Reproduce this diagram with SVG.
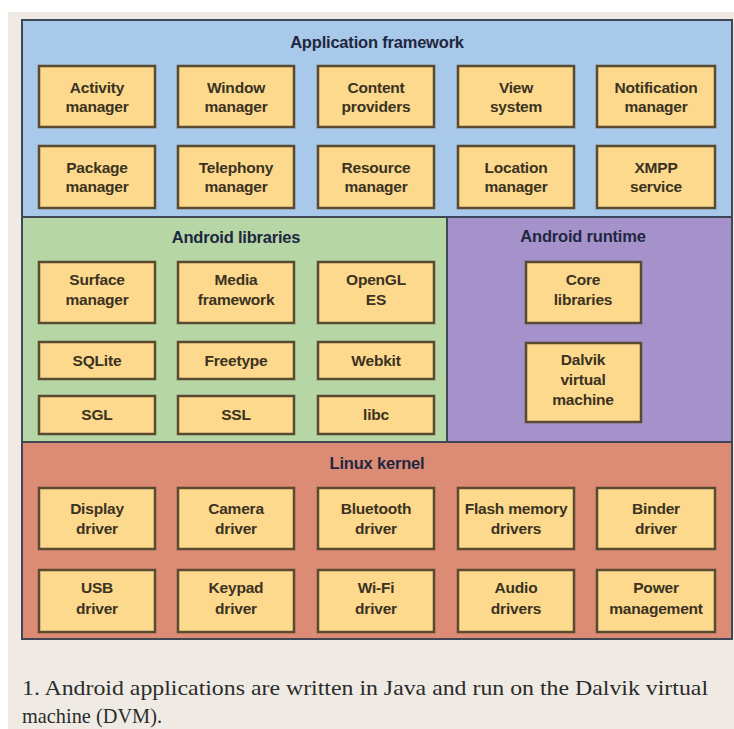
<svg xmlns="http://www.w3.org/2000/svg" width="734" height="729" viewBox="0 0 734 729">
<style>
.layer{stroke:#3f4656;stroke-width:2}
.box rect{fill:#fcd98c;stroke:#5a4a30;stroke-width:2.5}
.box text{font-family:"Liberation Sans",Arial,sans-serif;font-size:15.5px;font-weight:bold;fill:#3b3222;text-anchor:middle;letter-spacing:-0.2px}
.title{font-family:"Liberation Sans",Arial,sans-serif;font-size:16.5px;font-weight:bold;fill:#1f2740;text-anchor:middle;letter-spacing:-0.2px}
.cap{font-family:"Liberation Serif","Times New Roman",serif;font-size:21px;fill:#2b2b2b}
</style>
<rect x="0" y="0" width="734" height="729" fill="#ffffff"/>
<rect x="8" y="12" width="726" height="717" fill="#efebe4"/>
<g id="layer-app">
<rect class="layer" x="22" y="20" width="710" height="197" fill="#a8c9e9"/>
<text class="title" x="377" y="48">Application framework</text>
</g>
<g id="layer-lib">
<rect class="layer" x="22" y="217" width="425" height="225" fill="#b6d6a6"/>
<text class="title" x="236" y="243">Android libraries</text>
</g>
<g id="layer-runtime">
<rect class="layer" x="447" y="217" width="285" height="225" fill="#a592cb"/>
<text class="title" x="583" y="242">Android runtime</text>
</g>
<g id="layer-kernel">
<rect class="layer" x="22" y="442" width="710" height="197" fill="#dc8b74"/>
<text class="title" x="377" y="469">Linux kernel</text>
</g>
<g id="connectors"></g>
<g id="activity" class="box"><rect x="39" y="66" width="116" height="61"/><text x="97" y="93">Activity</text><text x="97" y="112">manager</text></g>
<g id="window" class="box"><rect x="178" y="66" width="116" height="61"/><text x="236" y="93">Window</text><text x="236" y="112">manager</text></g>
<g id="content" class="box"><rect x="318" y="66" width="116" height="61"/><text x="376" y="93">Content</text><text x="376" y="112">providers</text></g>
<g id="view" class="box"><rect x="458" y="66" width="116" height="61"/><text x="516" y="93">View</text><text x="516" y="112">system</text></g>
<g id="notification" class="box"><rect x="597" y="66" width="118" height="61"/><text x="656" y="93">Notification</text><text x="656" y="112">manager</text></g>
<g id="package" class="box"><rect x="39" y="146" width="116" height="62"/><text x="97" y="173">Package</text><text x="97" y="192">manager</text></g>
<g id="telephony" class="box"><rect x="178" y="146" width="116" height="62"/><text x="236" y="173">Telephony</text><text x="236" y="192">manager</text></g>
<g id="resource" class="box"><rect x="318" y="146" width="116" height="62"/><text x="376" y="173">Resource</text><text x="376" y="192">manager</text></g>
<g id="location" class="box"><rect x="458" y="146" width="116" height="62"/><text x="516" y="173">Location</text><text x="516" y="192">manager</text></g>
<g id="xmpp" class="box"><rect x="597" y="146" width="118" height="62"/><text x="656" y="173">XMPP</text><text x="656" y="192">service</text></g>
<g id="surface" class="box"><rect x="39" y="262" width="116" height="61"/><text x="97" y="285">Surface</text><text x="97" y="305">manager</text></g>
<g id="media" class="box"><rect x="178" y="262" width="116" height="61"/><text x="236" y="285">Media</text><text x="236" y="305">framework</text></g>
<g id="opengl" class="box"><rect x="318" y="262" width="116" height="61"/><text x="376" y="285">OpenGL</text><text x="376" y="305">ES</text></g>
<g id="sqlite" class="box"><rect x="39" y="342" width="116" height="37"/><text x="97" y="366">SQLite</text></g>
<g id="freetype" class="box"><rect x="178" y="342" width="116" height="37"/><text x="236" y="366">Freetype</text></g>
<g id="webkit" class="box"><rect x="318" y="342" width="116" height="37"/><text x="376" y="366">Webkit</text></g>
<g id="sgl" class="box"><rect x="39" y="396" width="116" height="38"/><text x="97" y="420">SGL</text></g>
<g id="ssl" class="box"><rect x="178" y="396" width="116" height="38"/><text x="236" y="420">SSL</text></g>
<g id="libc" class="box"><rect x="318" y="396" width="116" height="38"/><text x="376" y="420">libc</text></g>
<g id="core" class="box"><rect x="526" y="262" width="115" height="61"/><text x="583" y="285">Core</text><text x="583" y="305">libraries</text></g>
<g id="dalvik" class="box"><rect x="526" y="343" width="115" height="79"/><text x="583" y="365">Dalvik</text><text x="583" y="385">virtual</text><text x="583" y="405">machine</text></g>
<g id="display" class="box"><rect x="39" y="488" width="116" height="61"/><text x="97" y="514">Display</text><text x="97" y="534">driver</text></g>
<g id="camera" class="box"><rect x="178" y="488" width="116" height="61"/><text x="236" y="514">Camera</text><text x="236" y="534">driver</text></g>
<g id="bluetooth" class="box"><rect x="318" y="488" width="116" height="61"/><text x="376" y="514">Bluetooth</text><text x="376" y="534">driver</text></g>
<g id="flash" class="box"><rect x="458" y="488" width="116" height="61"/><text x="516" y="514">Flash memory</text><text x="516" y="534">drivers</text></g>
<g id="binder" class="box"><rect x="597" y="488" width="118" height="61"/><text x="656" y="514">Binder</text><text x="656" y="534">driver</text></g>
<g id="usb" class="box"><rect x="39" y="570" width="116" height="62"/><text x="97" y="593">USB</text><text x="97" y="614">driver</text></g>
<g id="keypad" class="box"><rect x="178" y="570" width="116" height="62"/><text x="236" y="593">Keypad</text><text x="236" y="614">driver</text></g>
<g id="wifi" class="box"><rect x="318" y="570" width="116" height="62"/><text x="376" y="593">Wi-Fi</text><text x="376" y="614">driver</text></g>
<g id="audio" class="box"><rect x="458" y="570" width="116" height="62"/><text x="516" y="593">Audio</text><text x="516" y="614">drivers</text></g>
<g id="power" class="box"><rect x="597" y="570" width="118" height="62"/><text x="656" y="593">Power</text><text x="656" y="614">management</text></g>
<text class="cap" x="22" y="695" textLength="686" lengthAdjust="spacingAndGlyphs">1. Android applications are written in Java and run on the Dalvik virtual</text>
<text class="cap" x="22" y="723" textLength="140" lengthAdjust="spacingAndGlyphs">machine (DVM).</text>
</svg>
